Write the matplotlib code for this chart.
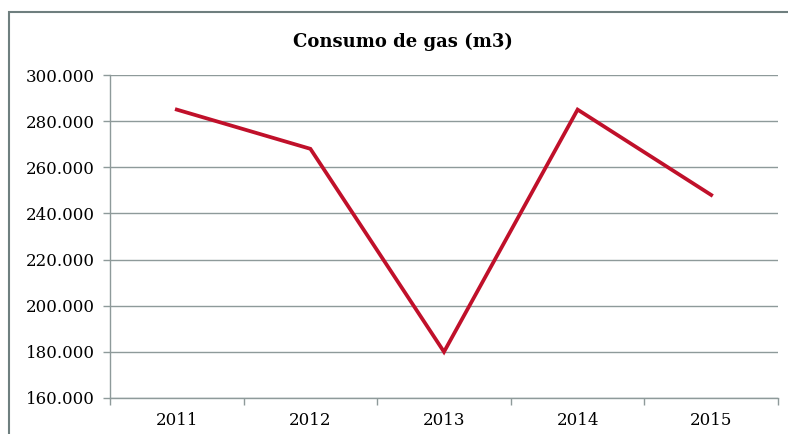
import matplotlib

matplotlib.use("Agg")
import matplotlib.pyplot as plt
from matplotlib.patches import Rectangle
from matplotlib.ticker import FuncFormatter

years = ["2011", "2012", "2013", "2014", "2015"]
consumo = [285000, 268000, 180000, 285000, 248000]
y_ticks = [160000, 180000, 200000, 220000, 240000, 260000, 280000, 300000]

GRID = "#8E9A9A"
LINE = "#C0102A"

plt.rcParams["font.family"] = ["DejaVu Serif"]

fig = plt.figure(figsize=(7.88, 4.34), dpi=100)
ax = fig.add_axes([110 / 788, 1 - 398 / 434, (778 - 110) / 788, (398 - 75) / 434])

x = list(range(len(years)))
ax.plot(x, consumo, color=LINE, lw=2.7, solid_joinstyle="miter")

ax.set_xlim(-0.5, len(years) - 0.5)
ax.set_ylim(y_ticks[0], y_ticks[-1])
ax.set_yticks(y_ticks)
ax.yaxis.set_major_formatter(
    FuncFormatter(lambda v, _: f"{int(v):,}".replace(",", "."))
)
ax.set_xticks(x)
ax.set_xticklabels(years)
# category boundaries carry the tick marks, labels sit in the middle
ax.set_xticks([i - 0.5 for i in range(len(years) + 1)], minor=True)
ax.tick_params(axis="x", which="major", length=0, pad=10, labelsize=12)
ax.tick_params(axis="x", which="minor", length=5, color=GRID, width=1)
ax.tick_params(axis="y", length=5, color=GRID, width=1, pad=6, labelsize=12)

ax.grid(axis="y", color=GRID, lw=1)
ax.set_axisbelow(True)
for side in ("top", "right"):
    ax.spines[side].set_visible(False)
for side in ("left", "bottom"):
    ax.spines[side].set_color(GRID)
    ax.spines[side].set_linewidth(1)

fig.text(403 / 788, 1 - 42 / 434, "Consumo de gas (m3)", ha="center", va="center",
         fontsize=13, fontweight="bold")

# outer chart frame
fig.patches.append(Rectangle((9 / 788, -0.05), 1.0, 1 - 12 / 434 + 0.05,
                             transform=fig.transFigure, fill=False,
                             edgecolor="#6F7F7F", lw=1.5))

fig.savefig("out.png", dpi=100)
